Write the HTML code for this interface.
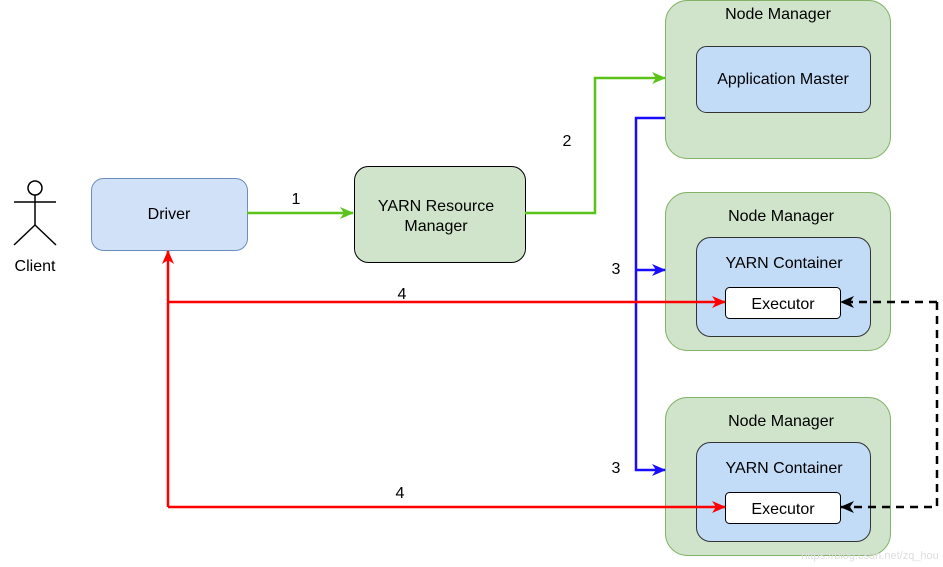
<!DOCTYPE html>
<html><head><style>body{margin:0;background:#fff}</style></head><body>
<svg width="943" height="562" xmlns="http://www.w3.org/2000/svg" font-family="Liberation Sans, sans-serif" font-size="16" text-anchor="middle">
<defs>
<marker id="g" viewBox="0 0 14 12" markerWidth="14" markerHeight="12" refX="13" refY="6" orient="auto" markerUnits="userSpaceOnUse"><path d="M0,0 L14,6 L0,12 L4,6z" fill="#5bc21a"/></marker>
<marker id="b" viewBox="0 0 14 12" markerWidth="14" markerHeight="12" refX="13" refY="6" orient="auto" markerUnits="userSpaceOnUse"><path d="M0,0 L14,6 L0,12 L4,6z" fill="#1a0dff"/></marker>
<marker id="r" viewBox="0 0 14 12" markerWidth="14" markerHeight="12" refX="13" refY="6" orient="auto" markerUnits="userSpaceOnUse"><path d="M0,0 L14,6 L0,12 L4,6z" fill="#ff0000"/></marker>
<marker id="k" viewBox="0 0 14 12" markerWidth="14" markerHeight="12" refX="13" refY="6" orient="auto" markerUnits="userSpaceOnUse"><path d="M0,0 L14,6 L0,12 L4,6z" fill="#000"/></marker>
</defs>
<rect x="665.5" y="0.5" width="225" height="158" rx="22" fill="#d0e4cb" stroke="#82b366"/>
<rect x="665.5" y="192.5" width="225" height="158" rx="22" fill="#d0e4cb" stroke="#82b366"/>
<rect x="665.5" y="397.5" width="225" height="158" rx="22" fill="#d0e4cb" stroke="#82b366"/>
<text x="778" y="19">Node Manager</text>
<text x="781" y="221">Node Manager</text>
<text x="781" y="426">Node Manager</text>
<rect x="696.5" y="46.5" width="174" height="66" rx="10" fill="#c2dcf8" stroke="#333"/>
<text x="783" y="84">Application Master</text>
<rect x="696.5" y="237.5" width="174" height="99" rx="14" fill="#c2dcf8" stroke="#333"/>
<text x="784" y="268">YARN Container</text>
<rect x="725.5" y="287.5" width="115" height="31" rx="4" fill="#fff" stroke="#000"/>
<text x="783" y="309">Executor</text>
<rect x="696.5" y="442.5" width="174" height="99" rx="14" fill="#c2dcf8" stroke="#333"/>
<text x="784" y="473">YARN Container</text>
<rect x="725.5" y="492.5" width="115" height="31" rx="4" fill="#fff" stroke="#000"/>
<text x="783" y="514">Executor</text>
<rect x="91.5" y="178.5" width="156" height="72" rx="12" fill="#d1e1f7" stroke="#6c8ebf"/>
<text x="169" y="219">Driver</text>
<rect x="354.5" y="166.5" width="171" height="96" rx="14" fill="#d0e4cb" stroke="#000"/>
<text x="436" y="211">YARN Resource</text>
<text x="436" y="231">Manager</text>
<g stroke="#000" stroke-width="1.5" fill="none">
<circle cx="35" cy="188" r="7"/>
<line x1="35" y1="195" x2="35" y2="225"/>
<line x1="14" y1="202" x2="56" y2="202"/>
<line x1="35" y1="225" x2="14" y2="245"/>
<line x1="35" y1="225" x2="56" y2="245"/>
</g>
<text x="35" y="271">Client</text>
<g fill="none" stroke-width="2.5">
<line x1="247" y1="213" x2="353" y2="213" stroke="#5bc21a" marker-end="url(#g)"/>
<polyline points="525,213 595,213 595,78 665,78" stroke="#5bc21a" marker-end="url(#g)"/>
<polyline points="665,118 636,118 636,470 665,470" stroke="#1a0dff" marker-end="url(#b)"/>
<line x1="636" y1="270" x2="665" y2="270" stroke="#1a0dff" marker-end="url(#b)"/>
<polyline points="168,507 168,251" stroke="#ff0000" marker-end="url(#r)"/>
<polyline points="168,302 725,302" stroke="#ff0000" marker-end="url(#r)"/>
<polyline points="168,507 725,507" stroke="#ff0000" marker-end="url(#r)"/>
<polyline points="937,302 841,302" stroke="#000" stroke-dasharray="8,6" marker-end="url(#k)"/>
<polyline points="937,302 937,507 841,507" stroke="#000" stroke-dasharray="8,6" marker-end="url(#k)"/>
</g>
<text x="296" y="204">1</text>
<text x="567" y="146">2</text>
<text x="616" y="274">3</text>
<text x="616" y="473">3</text>
<text x="402" y="299">4</text>
<text x="400" y="498">4</text>
<text x="870" y="559" font-size="11" fill="#ddd">https://blog.csdn.net/zq_hou</text>
</svg>
</body></html>
